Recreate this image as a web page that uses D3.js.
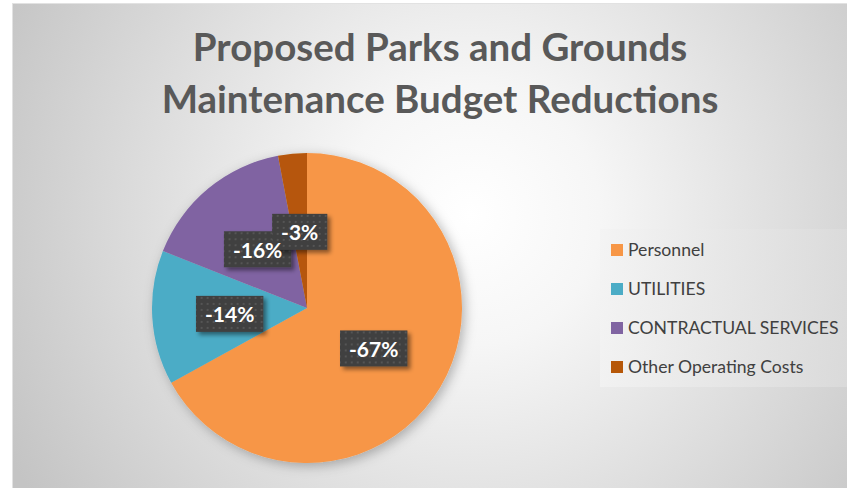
<!DOCTYPE html>
<html>
<head>
<meta charset="utf-8">
<script src="https://cdn.jsdelivr.net/npm/d3@7"></script>
<style>
  html, body { margin: 0; padding: 0; background: #ffffff; }
  svg { display: block; }
  text { font-family: Lato, "Open Sans", sans-serif; }
</style>
</head>
<body>
<svg id="chart" width="847" height="488"></svg>
<script>
// Budget reduction shares by category (percent of total cut)
const categories = ["Personnel", "UTILITIES", "CONTRACTUAL SERVICES", "Other Operating Costs"];
const reductions = [-67, -14, -16, -3];
const sliceColors = ["#F79646", "#4BACC6", "#8064A2", "#B65708"];
const titleLines = ["Proposed Parks and Grounds", "Maintenance Budget Reductions"];

const W = 847, H = 488;
const svg = d3.select("#chart");
const defs = svg.append("defs");

// Chart-area background: soft radial fade from white to grey
const bg = defs.append("radialGradient")
  .attr("id", "bgGrad").attr("gradientUnits", "userSpaceOnUse")
  .attr("cx", 470).attr("cy", 215).attr("r", 520);
bg.append("stop").attr("offset", "0%").attr("stop-color", "#ffffff");
bg.append("stop").attr("offset", "25%").attr("stop-color", "#f6f6f6");
bg.append("stop").attr("offset", "100%").attr("stop-color", "#c4c4c4");

// Legend panel gradient
const lg = defs.append("linearGradient").attr("id", "legGrad")
  .attr("x1", "0%").attr("y1", "0%").attr("x2", "100%").attr("y2", "0%");
lg.append("stop").attr("offset", "0%").attr("stop-color", "#f3f3f3");
lg.append("stop").attr("offset", "100%").attr("stop-color", "#dcdcdc");

// Dotted texture for data-label boxes
const pat = defs.append("pattern").attr("id", "dots")
  .attr("patternUnits", "userSpaceOnUse").attr("width", 6).attr("height", 6);
pat.append("rect").attr("width", 6).attr("height", 6).attr("fill", "#3f3f3f");
pat.append("rect").attr("x", 1).attr("y", 1).attr("width", 2).attr("height", 2).attr("fill", "#555555");

// Shadows
const pieShadow = defs.append("filter").attr("id", "pieShadow")
  .attr("x", "-20%").attr("y", "-20%").attr("width", "140%").attr("height", "140%");
pieShadow.append("feDropShadow").attr("dx", 3).attr("dy", 3).attr("stdDeviation", 6)
  .attr("flood-color", "#000").attr("flood-opacity", 0.28);

const boxShadow = defs.append("filter").attr("id", "boxShadow")
  .attr("x", "-30%").attr("y", "-30%").attr("width", "160%").attr("height", "170%");
boxShadow.append("feDropShadow").attr("dx", 3).attr("dy", 3).attr("stdDeviation", 2)
  .attr("flood-color", "#000").attr("flood-opacity", 0.45);

// Chart area
svg.append("rect").attr("x", 12).attr("y", 3).attr("width", W - 12).attr("height", H - 3)
  .attr("fill", "url(#bgGrad)");
svg.append("line").attr("x1", 12.5).attr("x2", 12.5).attr("y1", 3).attr("y2", H)
  .attr("stroke", "#e2e2e2").attr("stroke-width", 1);
svg.append("line").attr("x1", 12).attr("x2", W).attr("y1", 3.5).attr("y2", 3.5)
  .attr("stroke", "#e2e2e2").attr("stroke-width", 1);

// Title
svg.append("text")
  .attr("x", 440).attr("y", 61)
  .attr("text-anchor", "middle")
  .attr("fill", "#595959")
  .style("font-size", "38.5px").style("font-weight", 700)
  .selectAll("tspan").data(titleLines).join("tspan")
  .attr("x", 440).attr("dy", (d, i) => i === 0 ? 0 : 52)
  .text(d => d);

// Pie
const cx = 307, cy = 308, R = 155;
const pie = d3.pie().value(d => Math.abs(d.v)).sort(null);
const slices = pie(categories.map((c, i) => ({ c, v: reductions[i], color: sliceColors[i] })));
const arc = d3.arc().innerRadius(0).outerRadius(R);
const labelArc = d3.arc().innerRadius(R * 0.5).outerRadius(R * 0.5);

const g = svg.append("g").attr("transform", `translate(${cx},${cy})`);
g.append("g").attr("filter", "url(#pieShadow)")
  .selectAll("path").data(slices).join("path")
  .attr("d", arc)
  .attr("fill", d => d.data.color);

// Data labels: dark textured boxes, then white percentage text on top
const fmt = v => `${v}%`;
const labelPos = d => {
  const [x, y] = labelArc.centroid(d);
  return `translate(${x},${y + 1})`;
};
const boxes = g.append("g").selectAll("rect").data(slices).join("rect")
  .attr("filter", "url(#boxShadow)").attr("fill", "url(#dots)")
  .attr("transform", labelPos);
const texts = g.append("g").selectAll("text").data(slices).join("text")
  .attr("transform", labelPos)
  .attr("text-anchor", "middle").attr("dy", "0.4em")
  .attr("fill", "#ffffff")
  .style("font-size", "21px").style("font-weight", 700)
  .text(d => fmt(d.data.v));
texts.each(function (d, i) {
  const w = this.getComputedTextLength();
  d3.select(boxes.nodes()[i])
    .attr("x", -w / 2 - 9).attr("y", -18).attr("width", w + 18).attr("height", 36);
});

// Legend
svg.append("rect").attr("x", 600).attr("y", 229).attr("width", 247).attr("height", 158)
  .attr("fill", "url(#legGrad)").attr("opacity", 0.8);
const legend = svg.append("g").selectAll("g").data(categories).join("g")
  .attr("transform", (d, i) => `translate(611, ${250 + i * 39})`);
legend.append("rect").attr("x", 0).attr("y", -6).attr("width", 12).attr("height", 12)
  .attr("fill", (d, i) => sliceColors[i]);
legend.append("text").attr("x", 17).attr("dy", "0.36em")
  .attr("fill", "#404040").style("font-size", "17.6px")
  .text(d => d);
</script>
</body>
</html>
